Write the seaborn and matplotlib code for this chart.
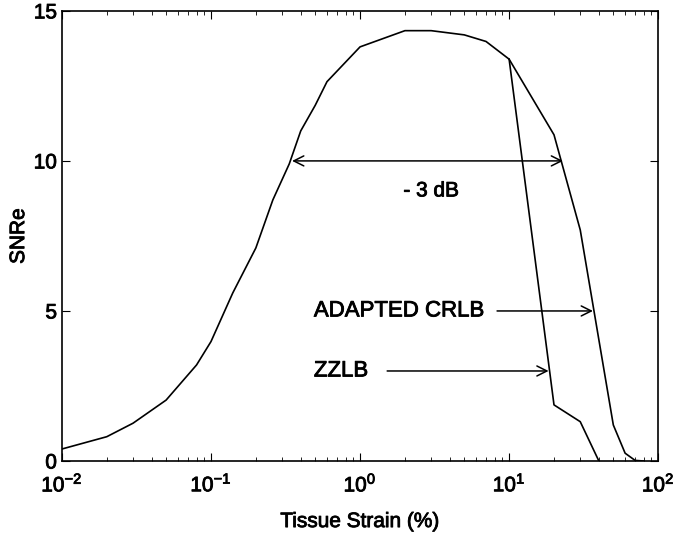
import numpy as np
import pandas as pd
import matplotlib
matplotlib.use('Agg')
import matplotlib.pyplot as plt
import matplotlib.patheffects as pe
import seaborn as sns

# shared part of the curve (strain in %, SNRe)
strain_common = [0.01, 0.02, 0.03, 0.05, 0.08, 0.1, 0.14, 0.2, 0.26, 0.335, 0.4, 0.5, 0.6, 1.0, 2.0, 3.0, 5.0, 7.0, 10.0]
snre_common = [0.4, 0.81, 1.26, 2.03, 3.2, 3.98, 5.6, 7.1, 8.7, 9.9, 11.0, 11.85, 12.64, 13.8, 14.34, 14.34, 14.2, 13.98, 13.39]

# adapted CRLB branch
strain_crlb = [10.0, 20.0, 30.0, 50.0, 60.0, 70.0, 80.0]
snre_crlb = [13.39, 10.87, 7.7, 1.2, 0.26, 0.02, 0.0]

# ZZLB branch
strain_zzlb = [10.0, 20.0, 30.0, 40.0]
snre_zzlb = [13.39, 1.87, 1.31, 0.0]

# annotations: text, x, y  /  arrow start x, end x, y
label_3db = ['- 3 dB', 3.0, 9.0]
arrow_3db = [0.35, 23.0, 10.0]
label_crlb = ['ADAPTED CRLB', 0.49, 5.0]
arrow_crlb = [8.3, 36.5, 5.0]
label_zzlb = ['ZZLB', 0.49, 3.0]
arrow_zzlb = [1.52, 18.4, 3.0]

sns.set_style('ticks')
plt.rcParams['font.family'] = ['Liberation Sans', 'DejaVu Sans']
plt.rcParams['mathtext.default'] = 'regular'
plt.rcParams['text.color'] = 'black'
plt.rcParams['axes.labelcolor'] = 'black'

thick = [pe.withStroke(linewidth=0.6, foreground='black')]

fig = plt.figure(figsize=(6.73, 5.43), dpi=100)
ax = fig.add_axes([0.092, 0.151, 0.886, 0.829])

for xs, ys in [(strain_common, snre_common), (strain_crlb, snre_crlb), (strain_zzlb, snre_zzlb)]:
    d = pd.DataFrame({'x': xs, 'y': ys})
    sns.lineplot(data=d, x='x', y='y', color='black', lw=1.2, sort=False, estimator=None, ax=ax)

ax.set_xscale('log')
ax.set_xlim(0.01, 100)
ax.set_ylim(0, 15)
ax.set_yticks([0, 5, 10, 15])
ax.set_xticks([0.01, 0.1, 1, 10, 100])
ax.set_xticklabels(['$10^{-2}$', '$10^{-1}$', '$10^{0}$', '$10^{1}$', '$10^{2}$'])
ax.tick_params(which='both', direction='in', top=True, right=True, labelsize=15, colors='black')
ax.tick_params(which='major', length=6, width=0.8)
ax.tick_params(which='minor', length=3, width=0.6)
ax.tick_params(axis='x', which='major', pad=9)
for lab in ax.get_xticklabels() + ax.get_yticklabels():
    lab.set_path_effects(thick)
for s in ax.spines.values():
    s.set_color('black')
    s.set_linewidth(1.2)

ax.set_xlabel('Tissue Strain (%)', fontsize=15, labelpad=12, path_effects=thick)
ax.set_ylabel('SNRe', fontsize=15, labelpad=4, path_effects=thick)

ap = dict(arrowstyle='->', color='black', lw=1.1, mutation_scale=18, shrinkA=0, shrinkB=0)
ax.annotate('', xy=(arrow_3db[0], arrow_3db[2]), xytext=(arrow_3db[1], arrow_3db[2]),
            arrowprops=dict(ap, arrowstyle='<->'))
ax.text(label_3db[1], label_3db[2], label_3db[0], fontsize=15, ha='center', va='center', path_effects=thick)

ax.annotate('', xy=(arrow_crlb[1], arrow_crlb[2]), xytext=(arrow_crlb[0], arrow_crlb[2]), arrowprops=ap)
ax.text(label_crlb[1], label_crlb[2], label_crlb[0], fontsize=16, ha='left', va='center', path_effects=thick)

ax.annotate('', xy=(arrow_zzlb[1], arrow_zzlb[2]), xytext=(arrow_zzlb[0], arrow_zzlb[2]), arrowprops=ap)
ax.text(label_zzlb[1], label_zzlb[2], label_zzlb[0], fontsize=16, ha='left', va='center', path_effects=thick)

fig.savefig('out.png', dpi=100)
